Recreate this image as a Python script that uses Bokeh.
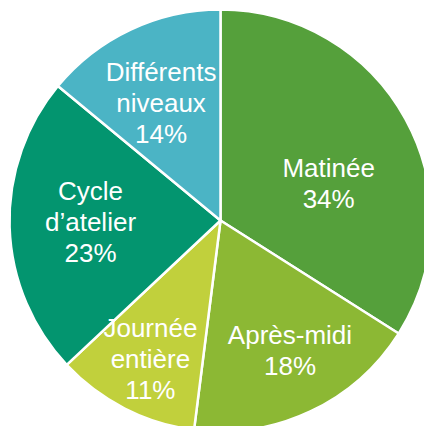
import math
from bokeh.plotting import figure
from bokeh.models import ColumnDataSource, Range1d
from bokeh.core.properties import value
from bokeh.embed import file_html
from bokeh.resources import INLINE

# ---- data ----
categories = ["Matinée", "Après-midi", "Journée entière", "Cycle d’atelier", "Différents niveaux"]
label_lines = [["Matinée"], ["Après-midi"], ["Journée", "entière"], ["Cycle", "d’atelier"], ["Différents", "niveaux"]]
shares = [34, 18, 11, 23, 14]
colors = ["#55A03B", "#8CB834", "#C1D03C", "#03956F", "#4BB4C5"]

# ---- layout / style ----
W, H = 424, 426
CX, CY = 220, 206     # pie centre (data units == pixels)
R = 211
label_dist = [114, 148, 156, 130, 131]
label_nudge_deg = [-10.4, 2.8, 0.3, -0.8, 1.8]
FONT = "Liberation Sans"
FS = 26
LINE_H = 31
TEXT_DY = 1

total = float(sum(shares))
starts, ends, mids = [], [], []
cum = 0.0
for s in shares:
    a0 = math.pi / 2 - cum / total * 2 * math.pi
    cum += s
    a1 = math.pi / 2 - cum / total * 2 * math.pi
    starts.append(a0)
    ends.append(a1)
    mids.append((a0 + a1) / 2)

src = ColumnDataSource(dict(x=[CX] * len(shares), y=[CY] * len(shares),
                            start=starts, end=ends, color=colors, cat=categories))

p = figure(width=W, height=H, output_backend="svg", toolbar_location=None,
           x_range=Range1d(0, W), y_range=Range1d(0, H), min_border=0,
           background_fill_color="white", border_fill_color="white")
p.axis.visible = False
p.grid.visible = False
p.outline_line_color = None

p.wedge(x="x", y="y", radius=R, start_angle="start", end_angle="end",
        direction="clock", fill_color="color", line_color="white",
        line_width=2.5, source=src)

tx, ty, tt = [], [], []
for i, s in enumerate(shares):
    lines = label_lines[i] + [f"{s}%"]
    ang = mids[i] + math.radians(label_nudge_deg[i])
    bx = CX + label_dist[i] * math.cos(ang)
    by = CY + label_dist[i] * math.sin(ang)
    n = len(lines)
    for j, ln in enumerate(lines):
        mid_y = by - (j - (n - 1) / 2) * LINE_H
        tx.append(bx)
        ty.append(mid_y + TEXT_DY)
        tt.append(ln)

p.text(x=tx, y=ty, text=tt, text_align="center", text_baseline="alphabetic",
       text_color="white", text_font=value(FONT), text_font_size=f"{FS}px")

open("out.html", "w").write(file_html(p, INLINE))
